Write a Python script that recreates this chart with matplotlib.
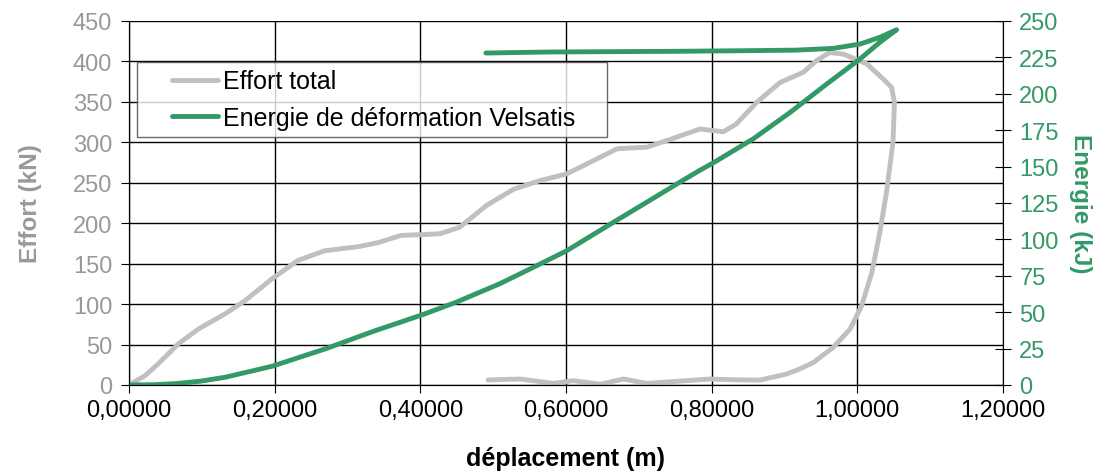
import numpy as np
import matplotlib
matplotlib.use('Agg')
import matplotlib.pyplot as plt
from matplotlib.ticker import FuncFormatter, MultipleLocator
from matplotlib.legend_handler import HandlerLine2D

plt.rcParams['font.family'] = ['Liberation Sans', 'DejaVu Sans']

# Effort total (kN) en fonction du déplacement (m) : charge puis décharge
effort_x = [0.0, 0.022, 0.040, 0.068, 0.095, 0.132, 0.159, 0.196, 0.232, 0.269, 0.315, 0.342,
            0.374, 0.406, 0.427, 0.454, 0.491, 0.528, 0.564, 0.601, 0.637, 0.670, 0.711, 0.738,
            0.757, 0.784, 0.816, 0.834, 0.862, 0.894, 0.926, 0.944, 0.962, 0.981, 1.013, 1.036,
            1.047, 1.051, 1.049, 1.040, 1.031, 1.020, 1.006, 0.990, 0.967, 0.940, 0.921, 0.903,
            0.866, 0.825, 0.798, 0.752, 0.711, 0.679, 0.647, 0.610, 0.583, 0.537, 0.493]
effort_y = [0, 11.5, 26, 51, 69, 88, 104, 131, 154, 166, 171, 176,
            185, 186, 187, 195, 222, 242, 252.6, 261, 277, 292, 294, 302,
            308, 316.5, 313, 322.7, 349.5, 374, 386.6, 401, 411, 409, 397, 378,
            368, 349.5, 300, 238, 189, 139, 98, 69, 46.6, 28, 19.8, 13.6,
            6, 6.6, 7.4, 4.5, 2, 7.4, 1, 5.3, 2, 7.4, 6.2]

# Energie de déformation Velsatis (kJ)
energie_x = [0.0, 0.035, 0.063, 0.098, 0.132, 0.196, 0.269, 0.338, 0.372, 0.406, 0.450, 0.509,
             0.564, 0.601, 0.665, 0.729, 0.757, 0.784, 0.802, 0.857, 0.908, 0.958, 1.004, 1.031,
             1.054, 1.031, 1.004, 0.967, 0.917, 0.848, 0.757, 0.578, 0.49]
energie_y = [0, 0.2, 0.9, 2.6, 5.3, 12.8, 24.7, 37.3, 43, 48.8, 57, 69.5,
             83, 92.2, 111.7, 131, 139.5, 147.5, 152.5, 169, 187.3, 206.7, 224, 235.4,
             244, 238.8, 234.2, 231.2, 230, 229.6, 229.2, 228.7, 228]

gris = '#C0C0C0'
gris_txt = '#999999'
vert = '#339966'


class HandlerDecale(HandlerLine2D):
    # trait de légende décalé vers la droite, comme dans Excel
    def get_xdata(self, legend, xdescent, ydescent, width, height, fontsize):
        xd = np.array([-xdescent + 1.1 * fontsize, width - 0.1 * fontsize])
        return xd, xd


fig = plt.figure(figsize=(11.08, 4.77), dpi=100)
ax1 = fig.add_axes([0.1164, 0.1908, 0.7888, 0.7631])
ax2 = ax1.twinx()

l1, = ax1.plot(effort_x, effort_y, color=gris, lw=3.5, solid_capstyle='round',
               solid_joinstyle='round', label='Effort total')
l2, = ax2.plot(energie_x, energie_y, color=vert, lw=3.5, solid_capstyle='round',
               solid_joinstyle='round', label='Energie de déformation Velsatis')

ax1.set_xlim(0, 1.2)
ax1.set_ylim(0, 450)
ax2.set_ylim(0, 250)
ax1.xaxis.set_major_locator(MultipleLocator(0.2))
ax1.yaxis.set_major_locator(MultipleLocator(50))
ax2.yaxis.set_major_locator(MultipleLocator(25))
ax1.xaxis.set_major_formatter(FuncFormatter(lambda v, p: f"{v:.5f}".replace('.', ',')))

ax1.grid(True, color='black', lw=1.0)
ax1.set_axisbelow(True)
for a in (ax1, ax2):
    a.spines['top'].set_visible(False)
    for s in a.spines.values():
        s.set_color('black')
ax1.spines['right'].set_visible(False)

ax1.tick_params(axis='x', colors='black', labelsize=17, length=6, direction='out', pad=4)
ax1.tick_params(axis='y', colors='black', labelcolor=gris_txt, labelsize=17, length=6,
                direction='out', pad=6)
ax2.tick_params(axis='y', colors='black', labelcolor=vert, labelsize=17, length=11.5,
                direction='inout', pad=6)

ax1.set_xlabel('déplacement (m)', fontsize=18, fontweight='bold', labelpad=18)
ax1.set_ylabel('Effort (kN)', fontsize=17.5, fontweight='bold', color=gris_txt, labelpad=22)
ax2.set_ylabel('Energie (kJ)', fontsize=17.5, fontweight='bold', color=vert, rotation=270,
               labelpad=24)

leg = ax2.legend(handles=[l1, l2], loc='upper left',
                 bbox_to_anchor=(0.00915, 0.6593, 0.5378, 0.2281), mode='expand',
                 fontsize=18, frameon=True, fancybox=False, edgecolor='#444444',
                 handlelength=3.04, handletextpad=0.1, borderpad=0.3, labelspacing=0.5,
                 borderaxespad=0, handler_map={l1: HandlerDecale(), l2: HandlerDecale()})
leg.get_frame().set_linewidth(1.0)
leg.set_zorder(10)

fig.savefig('out.png', dpi=100)
